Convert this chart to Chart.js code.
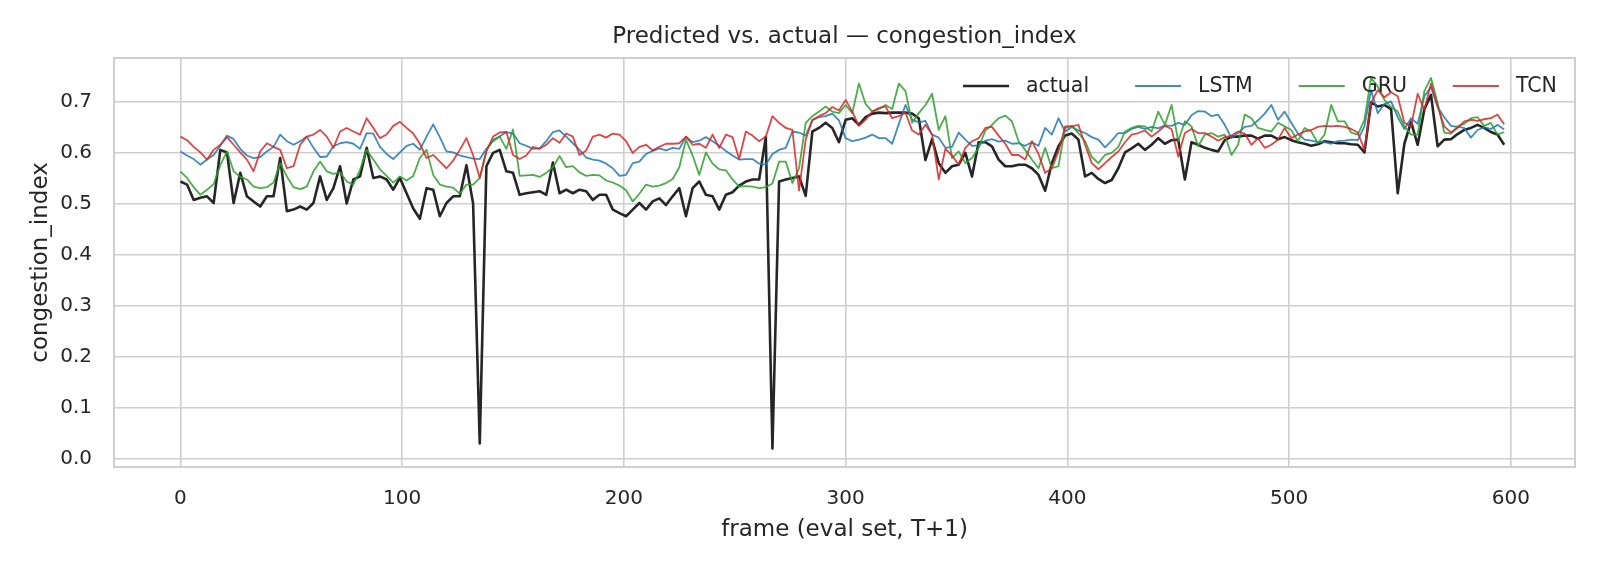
<!DOCTYPE html>
<html>
<head>
<meta charset="utf-8">
<script src="https://cdn.jsdelivr.net/npm/chart.js@4.4.0/dist/chart.umd.min.js"></script>
<style>
  html, body { margin: 0; padding: 0; background: #fff; }
  canvas { display: block; }
</style>
</head>
<body>
<canvas id="predChart" width="1600" height="569"></canvas>
<script>
// frame index of every sample (every 3rd frame of the eval set)
const STEP = 3;
const frames = Array.from({ length: 200 }, (_, i) => i * STEP);

const actual = [
  0.543, 0.537, 0.507, 0.511, 0.514, 0.501, 0.605, 0.600, 0.501, 0.560,
  0.514, 0.504, 0.494, 0.514, 0.514, 0.589, 0.485, 0.488, 0.494, 0.488,
  0.501, 0.553, 0.507, 0.530, 0.573, 0.500, 0.547, 0.553, 0.609, 0.550,
  0.553, 0.547, 0.527, 0.550, 0.520, 0.490, 0.470, 0.530, 0.527, 0.475,
  0.501, 0.514, 0.514, 0.575, 0.500, 0.030, 0.573, 0.599, 0.605, 0.563,
  0.560, 0.517, 0.520, 0.522, 0.524, 0.517, 0.580, 0.520, 0.527, 0.520,
  0.527, 0.524, 0.507, 0.517, 0.517, 0.488, 0.481, 0.475, 0.488, 0.501,
  0.488, 0.504, 0.510, 0.497, 0.514, 0.530, 0.475, 0.530, 0.543, 0.517,
  0.514, 0.488, 0.517, 0.522, 0.535, 0.543, 0.547, 0.547, 0.630, 0.020,
  0.543, 0.547, 0.550, 0.553, 0.515, 0.641, 0.648, 0.658, 0.648, 0.620,
  0.664, 0.667, 0.654, 0.669, 0.676, 0.678, 0.677, 0.678, 0.678, 0.678,
  0.676, 0.667, 0.585, 0.626, 0.579, 0.560, 0.573, 0.576, 0.599, 0.553,
  0.620, 0.620, 0.612, 0.586, 0.573, 0.573, 0.576, 0.576, 0.569, 0.556,
  0.525, 0.579, 0.612, 0.633, 0.637, 0.625, 0.553, 0.560, 0.548, 0.540,
  0.546, 0.569, 0.600, 0.608, 0.617, 0.605, 0.615, 0.628, 0.617, 0.624,
  0.625, 0.547, 0.620, 0.615, 0.609, 0.605, 0.602, 0.624, 0.631, 0.631,
  0.633, 0.633, 0.627, 0.633, 0.633, 0.626, 0.630, 0.624, 0.620, 0.617,
  0.613, 0.616, 0.622, 0.620, 0.618, 0.618, 0.616, 0.615, 0.600, 0.698,
  0.690, 0.693, 0.685, 0.520, 0.617, 0.660, 0.615, 0.684, 0.713, 0.612,
  0.625, 0.626, 0.636, 0.644, 0.648, 0.654, 0.648, 0.640, 0.635, 0.615
];

const lstm = [
  0.602, 0.594, 0.587, 0.576, 0.586, 0.595, 0.613, 0.633, 0.626, 0.607,
  0.594, 0.589, 0.591, 0.602, 0.611, 0.635, 0.622, 0.615, 0.622, 0.631,
  0.609, 0.591, 0.592, 0.612, 0.618, 0.620, 0.617, 0.607, 0.638, 0.637,
  0.611, 0.597, 0.587, 0.600, 0.613, 0.617, 0.605, 0.631, 0.655, 0.630,
  0.602, 0.600, 0.594, 0.591, 0.588, 0.587, 0.607, 0.622, 0.631, 0.640,
  0.637, 0.618, 0.613, 0.607, 0.608, 0.622, 0.640, 0.643, 0.631, 0.618,
  0.605, 0.590, 0.586, 0.584, 0.578, 0.569, 0.554, 0.556, 0.579, 0.582,
  0.597, 0.603, 0.608, 0.604, 0.609, 0.607, 0.631, 0.620, 0.623, 0.630,
  0.622, 0.613, 0.603, 0.594, 0.586, 0.587, 0.587, 0.578, 0.576, 0.597,
  0.605, 0.609, 0.641, 0.639, 0.633, 0.663, 0.669, 0.671, 0.676, 0.663,
  0.628, 0.622, 0.625, 0.629, 0.635, 0.628, 0.628, 0.617, 0.656, 0.693,
  0.664, 0.659, 0.662, 0.635, 0.629, 0.609, 0.611, 0.639, 0.625, 0.613,
  0.614, 0.623, 0.626, 0.621, 0.623, 0.617, 0.618, 0.613, 0.620, 0.613,
  0.648, 0.635, 0.667, 0.641, 0.650, 0.643, 0.638, 0.630, 0.625, 0.610,
  0.623, 0.638, 0.638, 0.646, 0.650, 0.646, 0.650, 0.647, 0.653, 0.652,
  0.658, 0.654, 0.673, 0.681, 0.680, 0.671, 0.674, 0.654, 0.628, 0.638,
  0.650, 0.652, 0.663, 0.676, 0.693, 0.664, 0.680, 0.658, 0.637, 0.625,
  0.623, 0.620, 0.620, 0.617, 0.622, 0.623, 0.625, 0.624, 0.651, 0.722,
  0.677, 0.695, 0.700, 0.669, 0.646, 0.667, 0.656, 0.710, 0.728, 0.689,
  0.669, 0.652, 0.650, 0.648, 0.629, 0.644, 0.649, 0.646, 0.654, 0.645
];

const gru = [
  0.563, 0.550, 0.532, 0.517, 0.527, 0.538, 0.575, 0.602, 0.563, 0.552,
  0.547, 0.533, 0.530, 0.532, 0.541, 0.579, 0.553, 0.532, 0.528, 0.533,
  0.563, 0.582, 0.563, 0.558, 0.561, 0.543, 0.537, 0.566, 0.605, 0.586,
  0.567, 0.554, 0.541, 0.553, 0.545, 0.554, 0.589, 0.605, 0.556, 0.537,
  0.533, 0.531, 0.519, 0.537, 0.537, 0.550, 0.604, 0.625, 0.631, 0.607,
  0.645, 0.554, 0.555, 0.556, 0.552, 0.560, 0.571, 0.593, 0.571, 0.573,
  0.561, 0.554, 0.556, 0.555, 0.545, 0.541, 0.535, 0.526, 0.504, 0.519,
  0.537, 0.533, 0.535, 0.540, 0.548, 0.571, 0.625, 0.594, 0.556, 0.600,
  0.578, 0.567, 0.565, 0.547, 0.533, 0.534, 0.533, 0.530, 0.532, 0.539,
  0.582, 0.582, 0.540, 0.569, 0.658, 0.671, 0.680, 0.690, 0.680, 0.677,
  0.693, 0.677, 0.735, 0.695, 0.680, 0.685, 0.693, 0.685, 0.735, 0.720,
  0.658, 0.677, 0.693, 0.715, 0.644, 0.671, 0.589, 0.602, 0.579, 0.589,
  0.609, 0.643, 0.654, 0.667, 0.672, 0.661, 0.622, 0.605, 0.586, 0.569,
  0.609, 0.569, 0.573, 0.648, 0.652, 0.638, 0.622, 0.591, 0.579, 0.595,
  0.599, 0.611, 0.641, 0.648, 0.652, 0.651, 0.641, 0.680, 0.654, 0.693,
  0.622, 0.661, 0.651, 0.612, 0.635, 0.638, 0.631, 0.635, 0.595, 0.615,
  0.674, 0.667, 0.648, 0.644, 0.641, 0.658, 0.651, 0.644, 0.622, 0.648,
  0.641, 0.618, 0.635, 0.693, 0.661, 0.661, 0.639, 0.635, 0.664, 0.746,
  0.729, 0.703, 0.689, 0.680, 0.651, 0.635, 0.635, 0.720, 0.746, 0.697,
  0.639, 0.637, 0.651, 0.656, 0.667, 0.669, 0.652, 0.658, 0.635, 0.640
];

const tcn = [
  0.631, 0.624, 0.611, 0.600, 0.586, 0.605, 0.615, 0.630, 0.615, 0.600,
  0.586, 0.563, 0.602, 0.618, 0.611, 0.605, 0.569, 0.573, 0.615, 0.631,
  0.635, 0.644, 0.631, 0.609, 0.641, 0.648, 0.641, 0.635, 0.667, 0.648,
  0.628, 0.635, 0.652, 0.660, 0.648, 0.637, 0.617, 0.589, 0.595, 0.582,
  0.569, 0.584, 0.605, 0.628, 0.595, 0.550, 0.602, 0.631, 0.639, 0.640,
  0.595, 0.587, 0.594, 0.611, 0.607, 0.615, 0.628, 0.619, 0.637, 0.631,
  0.595, 0.604, 0.631, 0.635, 0.629, 0.637, 0.635, 0.622, 0.599, 0.611,
  0.615, 0.604, 0.611, 0.617, 0.617, 0.618, 0.631, 0.615, 0.617, 0.609,
  0.635, 0.609, 0.635, 0.630, 0.587, 0.641, 0.633, 0.622, 0.631, 0.671,
  0.658, 0.648, 0.644, 0.525, 0.625, 0.664, 0.671, 0.677, 0.689, 0.682,
  0.703, 0.680, 0.652, 0.664, 0.680, 0.687, 0.690, 0.667, 0.671, 0.678,
  0.643, 0.635, 0.654, 0.635, 0.547, 0.607, 0.594, 0.576, 0.609, 0.622,
  0.628, 0.648, 0.650, 0.633, 0.617, 0.595, 0.595, 0.586, 0.622, 0.597,
  0.560, 0.569, 0.602, 0.651, 0.651, 0.654, 0.615, 0.579, 0.567, 0.579,
  0.591, 0.602, 0.620, 0.635, 0.638, 0.643, 0.631, 0.641, 0.652, 0.646,
  0.592, 0.638, 0.646, 0.638, 0.638, 0.631, 0.623, 0.630, 0.633, 0.641,
  0.637, 0.615, 0.628, 0.609, 0.615, 0.625, 0.648, 0.628, 0.635, 0.641,
  0.644, 0.650, 0.652, 0.651, 0.652, 0.650, 0.646, 0.639, 0.605, 0.697,
  0.722, 0.708, 0.718, 0.710, 0.658, 0.651, 0.715, 0.684, 0.735, 0.690,
  0.651, 0.639, 0.648, 0.661, 0.664, 0.662, 0.665, 0.667, 0.674, 0.655
];

const seriesNames = ['actual', 'LSTM', 'GRU', 'TCN'];
const seriesColors = ['#262626', 'rgba(31,119,180,0.85)', 'rgba(44,160,44,0.85)', 'rgba(214,39,40,0.85)'];
const seriesWidths = [2.6, 1.8, 1.8, 1.8];
const xTicks = [0, 100, 200, 300, 400, 500, 600];
const yTicks = [0.0, 0.1, 0.2, 0.3, 0.4, 0.5, 0.6, 0.7];

const FONT = '"DejaVu Sans", "Liberation Sans", sans-serif';
const TEXT = '#262626';
const GRID = '#cfcfcf';

function toPoints(values) {
  return values.map((v, i) => ({ x: frames[i], y: v }));
}

// title, axis labels, frame and legend drawn matplotlib style
const decorations = {
  id: 'decorations',
  beforeDatasetsDraw(chart) {
    const { ctx, chartArea: a } = chart;
    ctx.save();
    ctx.strokeStyle = GRID;
    ctx.lineWidth = 2;
    ctx.strokeRect(a.left, a.top, a.right - a.left, a.bottom - a.top);
    ctx.restore();
  },
  afterDraw(chart) {
    const { ctx, chartArea: a } = chart;
    const cx = (a.left + a.right) / 2;
    ctx.save();
    ctx.fillStyle = TEXT;
    ctx.textAlign = 'center';
    ctx.textBaseline = 'alphabetic';

    ctx.font = '23px ' + FONT;
    ctx.fillText('Predicted vs. actual \u2014 congestion_index', cx, 43);
    ctx.fillText('frame (eval set, T+1)', cx, 536);

    ctx.save();
    ctx.translate(46.5, (a.top + a.bottom) / 2);
    ctx.rotate(-Math.PI / 2);
    ctx.fillText('congestion_index', 0, 0);
    ctx.restore();

    // legend: one row, no frame, upper right inside the axes
    ctx.font = '20.5px ' + FONT;
    ctx.textAlign = 'left';
    ctx.textBaseline = 'middle';
    let x = 963;
    const y = 86;
    seriesNames.forEach((name, i) => {
      ctx.strokeStyle = seriesColors[i];
      ctx.lineWidth = seriesWidths[i];
      ctx.beginPath();
      ctx.moveTo(x, y);
      ctx.lineTo(x + 46, y);
      ctx.stroke();
      x += 46 + 17;
      ctx.fillText(name, x, y + 1);
      x += ctx.measureText(name).width + 46;
    });
    ctx.restore();
  }
};

const ctx = document.getElementById('predChart').getContext('2d');
new Chart(ctx, {
  type: 'line',
  data: {
    datasets: seriesNames.map((name, i) => ({
      label: name,
      data: toPoints([actual, lstm, gru, tcn][i]),
      borderColor: seriesColors[i],
      borderWidth: seriesWidths[i],
      pointRadius: 0,
      tension: 0,
      fill: false,
      borderJoinStyle: 'round',
      order: 4 - i
    }))
  },
  options: {
    responsive: false,
    animation: false,
    events: [],
    layout: { padding: { left: 0, right: 25, top: 58, bottom: 0 } },
    plugins: {
      legend: { display: false },
      title: { display: false },
      tooltip: { enabled: false }
    },
    scales: {
      x: {
        type: 'linear',
        min: -29.95,
        max: 628.95,
        afterFit(scale) { scale.height = 102; },
        afterBuildTicks(scale) { scale.ticks = xTicks.map(v => ({ value: v })); },
        grid: { color: GRID, lineWidth: 1.6, drawTicks: false },
        border: { display: false },
        ticks: {
          autoSkip: false,
          maxRotation: 0,
          padding: 20,
          color: TEXT,
          font: { family: FONT, size: 20 },
          callback: v => String(v)
        }
      },
      y: {
        min: -0.0163,
        max: 0.785,
        afterFit(scale) { scale.width = 114; },
        afterBuildTicks(scale) { scale.ticks = yTicks.map(v => ({ value: v })); },
        grid: { color: GRID, lineWidth: 1.6, drawTicks: false },
        border: { display: false },
        ticks: {
          autoSkip: false,
          padding: 22,
          color: TEXT,
          font: { family: FONT, size: 20 },
          callback: v => v.toFixed(1)
        }
      }
    }
  },
  plugins: [decorations]
});
</script>
</body>
</html>
